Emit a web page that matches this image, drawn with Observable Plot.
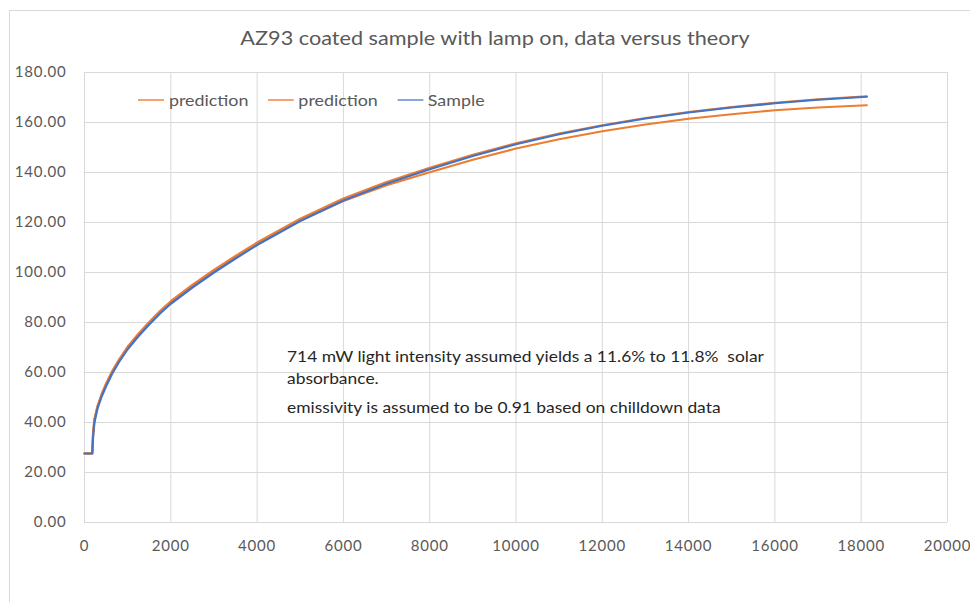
<!DOCTYPE html>
<html>
<head>
<meta charset="utf-8">
<script src="https://cdn.jsdelivr.net/npm/d3@7"></script>
<script src="https://cdn.jsdelivr.net/npm/@observablehq/plot@0.6"></script>
<style>
  html, body { margin: 0; padding: 0; background: #fff; }
  #chart { position: relative; width: 970px; height: 602px; overflow: hidden; font-family: Lato, sans-serif; }
  #frame { position: absolute; left: 9px; top: 10px; width: 1000px; height: 700px;
           border-top: 1px solid #d9d9d9; border-left: 1px solid #d9d9d9; }
  #title { position: absolute; left: 0; width: 990px; top: 26px; text-align: center;
           font-size: 19px; color: #595959; white-space: nowrap;
           transform: scaleX(1.14); transform-origin: 495px 0; }
  #legend { position: absolute; left: 138px; top: 91px; display: flex; align-items: center;
            font-size: 15px; color: #595959; white-space: nowrap;
            transform: scaleX(1.19); transform-origin: 0 0; }
  #legend .item { display: flex; align-items: center; margin-right: 16px; }
  #legend svg { margin-right: 4px; }
  #note { position: absolute; left: 287px; top: 345px; font-size: 15px; color: #262626;
          line-height: 22px; white-space: nowrap; transform: scaleX(1.16); transform-origin: 0 0; }
  #note div:nth-child(3) { margin-top: 7px; }
  #plot { position: absolute; left: 0; top: 0; }
  #plot svg text { letter-spacing: 0.8px; }
</style>
</head>
<body>
<div id="chart">
  <div id="frame"></div>
  <div id="plot"></div>
  <div id="title"></div>
  <div id="legend"></div>
  <div id="note"></div>
</div>
<script>
// Elapsed time (s) and temperature readings for the coated sample and the two model runs
const times = [0, 100, 180, 200, 230, 300, 400, 500, 640, 800, 1000, 1250, 1500, 1750, 2000,
  2500, 3000, 3500, 4000, 5000, 6000, 7000, 8000, 9000, 10000, 11000, 12000, 13000, 14000,
  15000, 16000, 17000, 18130];
const sample = [27.6, 27.6, 27.6, 34.5, 40.0, 45.5, 50.5, 54.5, 59.5, 64.2, 69.3, 74.5, 79.2,
  83.6, 87.5, 94.0, 100.0, 105.6, 111.0, 120.6, 128.8, 135.5, 141.3, 146.6, 151.3, 155.3,
  158.7, 161.6, 164.0, 166.0, 167.7, 169.1, 170.3];
// prediction at 11.6% solar absorbance
const prediction1 = [27.6, 27.6, 27.6, 36.0, 41.0, 46.3, 51.3, 55.3, 60.3, 65.0, 70.1, 75.3,
  80.0, 84.4, 88.3, 94.8, 100.7, 106.2, 111.5, 120.8, 128.6, 134.9, 140.1, 145.1, 149.6,
  153.3, 156.5, 159.2, 161.5, 163.3, 164.9, 166.0, 166.9];
// prediction at 11.8% solar absorbance
const prediction2 = [27.6, 27.6, 27.6, 36.0, 41.2, 46.5, 51.5, 55.5, 60.5, 65.2, 70.3, 75.5,
  80.2, 84.6, 88.5, 95.0, 101.0, 106.6, 112.0, 121.5, 129.6, 136.2, 141.9, 147.1, 151.7,
  155.6, 158.9, 161.8, 164.2, 166.2, 167.9, 169.3, 170.5];

const seriesNames = ["prediction", "prediction", "Sample"];
const lineColors = ["#ED7D31", "#ED7D31", "#4472C4"];
const swatchColors = ["#F3A36E", "#F3A36E", "#8AA6DA"];
const xTicks = [0, 2000, 4000, 6000, 8000, 10000, 12000, 14000, 16000, 18000, 20000];
const yTicks = [0, 20, 40, 60, 80, 100, 120, 140, 160, 180];

const titleText = "AZ93 coated sample with lamp on, data versus theory";
const noteLines = [
  "714 mW light intensity assumed yields a 11.6% to 11.8%  solar",
  "absorbance.",
  "emissivity is assumed to be 0.91 based on chilldown data"
];

const rows = (vals) => times.map((t, i) => ({t, v: vals[i]}));

const chart = Plot.plot({
  width: 970,
  height: 602,
  marginLeft: 84,
  marginRight: 23,
  marginTop: 72,
  marginBottom: 80,
  style: {fontFamily: "Lato, sans-serif", fontSize: "15px", color: "#595959", background: "transparent", overflow: "visible"},
  x: {domain: [0, 20000], label: null},
  y: {domain: [0, 180], label: null},
  marks: [
    Plot.gridX(xTicks, {stroke: "#d9d9d9", strokeOpacity: 1}),
    Plot.gridY(yTicks, {stroke: "#d9d9d9", strokeOpacity: 1}),
    Plot.ruleY([0], {stroke: "#d9d9d9"}),
    Plot.line(rows(prediction1), {x: "t", y: "v", stroke: lineColors[0], strokeWidth: 2.2}),
    Plot.line(rows(prediction2), {x: "t", y: "v", stroke: lineColors[1], strokeWidth: 2.2}),
    Plot.line(rows(sample), {x: "t", y: "v", stroke: lineColors[2], strokeWidth: 2.2}),
    Plot.axisX({ticks: xTicks, tickFormat: d => String(d), tickSize: 0, tickPadding: 18, fill: "#595959", fontSize: 15}),
    Plot.axisY({ticks: yTicks, tickFormat: d => d.toFixed(2), tickSize: 0, tickPadding: 18, fill: "#595959", fontSize: 15})
  ]
});
document.getElementById("plot").appendChild(chart);

document.getElementById("title").textContent = titleText;
document.getElementById("note").innerHTML = noteLines.map(s => `<div>${s.replace(/  /g, " &nbsp;")}</div>`).join("");

const legend = document.getElementById("legend");
seriesNames.forEach((name, i) => {
  const item = document.createElement("div");
  item.className = "item";
  item.innerHTML = `<svg width="22" height="4"><line x1="0" x2="22" y1="2" y2="2" stroke="${swatchColors[i]}" stroke-width="2.2"/></svg><span>${name}</span>`;
  legend.appendChild(item);
});
</script>
</body>
</html>
